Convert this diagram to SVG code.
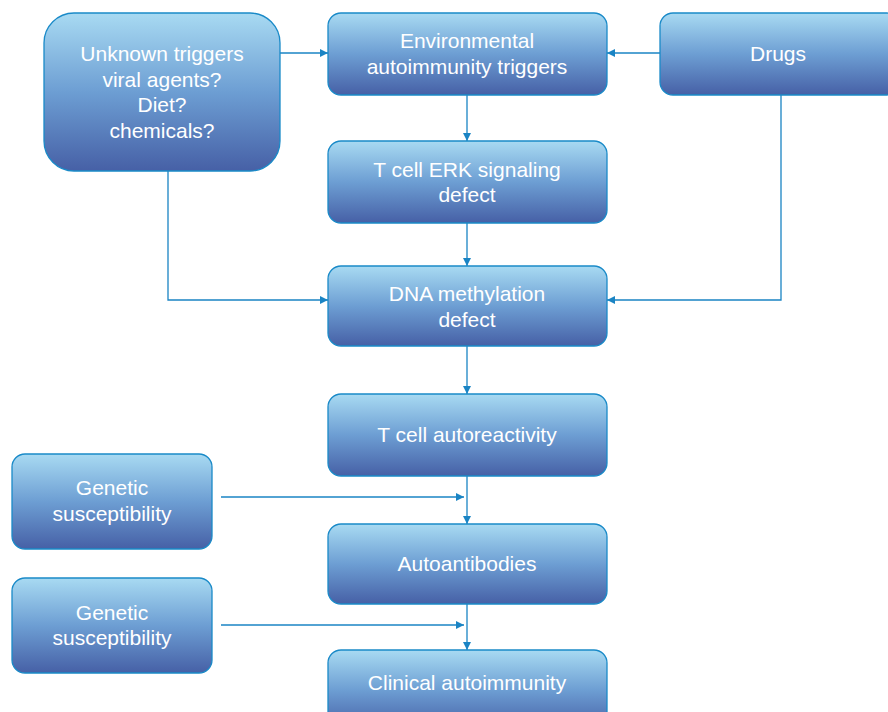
<svg xmlns="http://www.w3.org/2000/svg" width="888" height="712" viewBox="0 0 888 712">
<defs>
<linearGradient id="g" x1="0" y1="0" x2="0" y2="1">
<stop offset="0" stop-color="#a8daf2"/>
<stop offset="0.5" stop-color="#6d9ed3"/>
<stop offset="1" stop-color="#4660a6"/>
</linearGradient>
<marker id="ah" viewBox="0 0 10 10" refX="10" refY="5" markerWidth="10" markerHeight="8" markerUnits="userSpaceOnUse" orient="auto">
<path d="M0,0 L10,5 L0,10 z" fill="#1a84c4"/>
</marker>
</defs>
<style>
.box{fill:url(#g);stroke:#1a8ac8;stroke-width:1.3}
.t{font-family:"Liberation Sans",Arial,sans-serif;font-size:21px;fill:#ffffff;text-anchor:middle}
.c{fill:none;stroke:#1a84c4;stroke-width:1.3;marker-end:url(#ah)}
</style>
<rect width="888" height="712" fill="#ffffff"/>
<g id="connectors">
<path class="c" d="M280,53 H328"/>
<path class="c" d="M660,53 H607"/>
<path class="c" d="M467,95 V141"/>
<path class="c" d="M467,223 V266"/>
<path class="c" d="M168,171 V300 H328"/>
<path class="c" d="M781,95 V300 H607"/>
<path class="c" d="M467,346 V394"/>
<path class="c" d="M467,476 V524"/>
<path class="c" d="M221,497 H464"/>
<path class="c" d="M467,604 V650"/>
<path class="c" d="M221,625 H464"/>
</g>
<g id="unknown">
<rect class="box" x="44" y="13" width="236" height="158" rx="30"/>
<text class="t" x="162" y="61">Unknown triggers</text>
<text class="t" x="162" y="87">viral agents?</text>
<text class="t" x="162" y="112">Diet?</text>
<text class="t" x="162" y="138">chemicals?</text>
</g>
<g id="environmental">
<rect class="box" x="328" y="13" width="279" height="82" rx="13"/>
<text class="t" x="467" y="48">Environmental</text>
<text class="t" x="467" y="74">autoimmunity triggers</text>
</g>
<g id="drugs">
<rect class="box" x="660" y="13" width="240" height="82" rx="13"/>
<text class="t" x="778" y="61">Drugs</text>
</g>
<g id="erk">
<rect class="box" x="328" y="141" width="279" height="82" rx="13"/>
<text class="t" x="467" y="177">T cell ERK signaling</text>
<text class="t" x="467" y="202">defect</text>
</g>
<g id="dna">
<rect class="box" x="328" y="266" width="279" height="80" rx="13"/>
<text class="t" x="467" y="301">DNA methylation</text>
<text class="t" x="467" y="327">defect</text>
</g>
<g id="autoreactivity">
<rect class="box" x="328" y="394" width="279" height="82" rx="13"/>
<text class="t" x="467" y="442">T cell autoreactivity</text>
</g>
<g id="genetic1">
<rect class="box" x="12" y="454" width="200" height="95" rx="13"/>
<text class="t" x="112" y="495">Genetic</text>
<text class="t" x="112" y="521">susceptibility</text>
</g>
<g id="autoantibodies">
<rect class="box" x="328" y="524" width="279" height="80" rx="13"/>
<text class="t" x="467" y="571">Autoantibodies</text>
</g>
<g id="genetic2">
<rect class="box" x="12" y="578" width="200" height="95" rx="13"/>
<text class="t" x="112" y="620">Genetic</text>
<text class="t" x="112" y="645">susceptibility</text>
</g>
<g id="clinical">
<rect class="box" x="328" y="650" width="279" height="80" rx="13"/>
<text class="t" x="467" y="690">Clinical autoimmunity</text>
</g>
</svg>
